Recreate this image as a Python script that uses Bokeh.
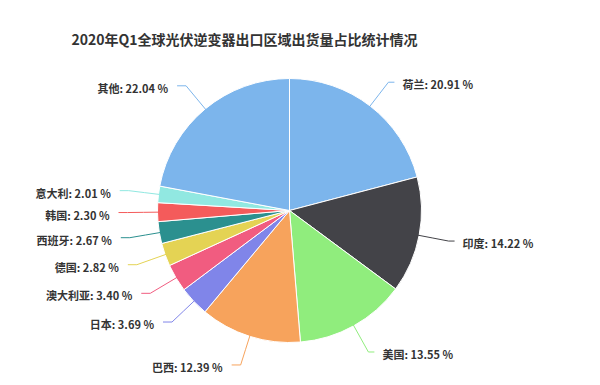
import math
from bokeh.plotting import figure
from bokeh.models import Range1d, ColumnDataSource, Label
from bokeh.core.properties import value
from bokeh.embed import file_html
from bokeh.resources import INLINE

# ---- data ----
title_text = "2020年Q1全球光伏逆变器出口区域出货量占比统计情况"
regions = ["荷兰", "印度", "美国", "巴西", "日本", "澳大利亚", "德国", "西班牙", "韩国", "意大利", "其他"]
shares = [20.91, 14.22, 13.55, 12.39, 3.69, 3.40, 2.82, 2.67, 2.30, 2.01, 22.04]
colors = ["#7cb5ec", "#434348", "#90ed7d", "#f7a35c", "#8085e9", "#f15c80",
          "#e4d354", "#2b908f", "#f45b5b", "#91e8e1", "#7cb5ec"]

# ---- layout (page pixel coordinates, y flipped for data) ----
W, H = 600, 385
def py(y):
    return H - y

cx, cy = 289, py(210)
r = 132
dist = 30
FONT = value("Noto Sans CJK SC")

p = figure(width=W, height=H, x_range=Range1d(0, W), y_range=Range1d(0, H),
           output_backend="svg", toolbar_location=None, min_border=0)
p.axis.visible = False
p.grid.visible = False
p.outline_line_color = None
p.background_fill_color = "white"
p.border_fill_color = "white"

total = sum(shares)
starts, ends, mids = [], [], []
cum = 0.0
for s in shares:
    f0 = cum / total
    cum += s
    f1 = cum / total
    starts.append(math.pi / 2 - 2 * math.pi * f1)
    ends.append(math.pi / 2 - 2 * math.pi * f0)
    mids.append(2 * math.pi * (f0 + f1) / 2)  # clockwise from top

src = ColumnDataSource(dict(start=starts, end=ends, color=colors))
p.wedge(x=cx, y=cy, radius=r, start_angle="start", end_angle="end",
        fill_color="color", line_color="white", line_width=1, source=src)

# connectors and labels
xs_l, ys_l, lc = [], [], []
tx, ty, tt, ta = [], [], [], []
for name, s, th, col in zip(regions, shares, mids, colors):
    sx, sy = math.sin(th), math.cos(th)
    right = sx >= 0
    ex, ey = cx + sx * (r - 2), cy + sy * (r - 2)
    mx, my = cx + sx * (r + 14), cy + sy * (r + 14)
    lx, ly = cx + sx * (r + dist), cy + sy * (r + dist)
    hx = lx + (6 if right else -9)
    xs_l.append([ex, mx, lx, hx])
    ys_l.append([ey, my, ly, ly])
    lc.append(col)
    tx.append(hx + (8 if right else -9))
    ty.append(ly - 2)
    tt.append(f"{name}: {s:.2f} %")
    ta.append("left" if right else "right")

p.multi_line(xs=xs_l, ys=ys_l, line_color=lc, line_width=1)
p.text(x=tx, y=ty, text=tt, text_align=ta, text_baseline="middle",
       text_font=FONT, text_font_size="11px", text_font_style="bold", text_color="#333333")

title = Label(x=244, y=py(38), text=title_text, text_align="center", text_baseline="middle",
              text_font="Noto Sans CJK SC", text_font_size="14px", text_font_style="bold",
              text_color="#333333")
p.add_layout(title)

open("out.html", "w").write(file_html(p, INLINE))
